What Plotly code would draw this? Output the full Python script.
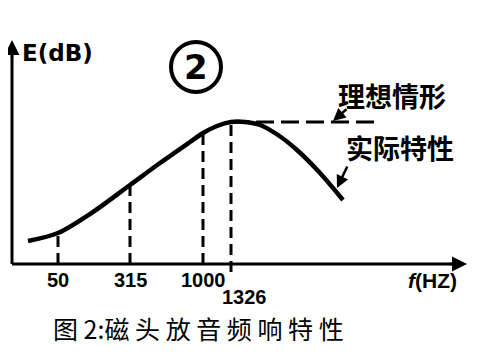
import plotly.graph_objects as go

# Schematic frequency-response curve (x: schematic frequency position, y: E level, arbitrary units)
curve_x = [16, 46, 81, 118, 148, 178, 191, 205, 219, 233, 248, 266, 285, 308, 331]
curve_y = [23, 31, 52, 79, 101, 122, 131, 138, 142, 142, 139, 129, 114, 91, 64]

# Marked frequencies: schematic positions, labels and level on curve
mark_pos = [46, 118, 191, 219]
mark_labels = ["50", "315", "1000", "1326"]
mark_level = [31, 79, 131, 142]

# Ideal (flat) response continuation
ideal_x = [219, 368]
ideal_y = [142, 142]

fig = go.Figure()

# dashed verticals
for i, (p, lv) in enumerate(zip(mark_pos, mark_level)):
    y0 = -8 if i == 3 else 0
    fig.add_trace(go.Scatter(x=[p, p], y=[y0, lv], mode="lines",
                             line=dict(color="black", width=3, dash="11px,6px"),
                             hoverinfo="skip", showlegend=False))

# ideal flat line
fig.add_trace(go.Scatter(x=ideal_x, y=ideal_y, mode="lines",
                         line=dict(color="black", width=3, dash="18px,7px"),
                         hoverinfo="skip", showlegend=False))

# actual curve
fig.add_trace(go.Scatter(x=curve_x, y=curve_y, mode="lines",
                         line=dict(color="black", width=4.5, shape="spline", smoothing=0.8),
                         hoverinfo="skip", showlegend=False))

# axes lines
fig.add_trace(go.Scatter(x=[0, 0], y=[0, 214], mode="lines",
                         line=dict(color="black", width=3), hoverinfo="skip", showlegend=False))
fig.add_trace(go.Scatter(x=[0, 445], y=[0, 0], mode="lines",
                         line=dict(color="black", width=3), hoverinfo="skip", showlegend=False))

ann = []
# axis arrowheads
ann.append(dict(x=0, y=224, ax=0, ay=205, xref="x", yref="y", axref="x", ayref="y",
                text="", showarrow=True, arrowhead=2, arrowsize=1.2, arrowwidth=2.5, arrowcolor="black"))
ann.append(dict(x=455, y=0, ax=435, ay=0, xref="x", yref="y", axref="x", ayref="y",
                text="", showarrow=True, arrowhead=2, arrowsize=1.2, arrowwidth=2.5, arrowcolor="black"))

bold_font = dict(family="Liberation Sans", size=20, color="black")
for i, (p, lab) in enumerate(zip(mark_pos, mark_labels)):
    if i == 3:
        ann.append(dict(x=p + 13, y=-33, text="<b>%s</b>" % lab, showarrow=False, font=bold_font))
    else:
        ann.append(dict(x=p, y=-16, text="<b>%s</b>" % lab, showarrow=False, font=bold_font))

ann.append(dict(x=420, y=-16, text="<b><i>f</i>(HZ)</b>", showarrow=False,
                font=dict(family="Liberation Sans", size=21, color="black")))
ann.append(dict(x=45, y=211, text="<b>E(dB)</b>", showarrow=False,
                font=dict(family="DejaVu Sans", size=23, color="black")))
ann.append(dict(x=184, y=197, text="<b>2</b>", showarrow=False,
                font=dict(family="DejaVu Sans", size=34, color="black")))
ann.append(dict(x=380, y=169, text="<b>理想情形</b>", showarrow=False,
                font=dict(family="Noto Sans CJK SC", size=27, color="black")))
ann.append(dict(x=388, y=117, text="<b>实际特性</b>", showarrow=False,
                font=dict(family="Noto Sans CJK SC", size=27, color="black")))
ann.append(dict(x=186, y=-64, text="图 2:磁 头 放 音 频 响 特 性", showarrow=False,
                font=dict(family="Noto Sans CJK SC", size=25, color="black")))
# leaders
ann.append(dict(x=321, y=143, ax=336, ay=156, xref="x", yref="y", axref="x", ayref="y",
                text="", showarrow=True, arrowhead=2, arrowsize=1, arrowwidth=2.5, arrowcolor="black"))
ann.append(dict(x=325, y=76, ax=336, ay=99, xref="x", yref="y", axref="x", ayref="y",
                text="", showarrow=True, arrowhead=2, arrowsize=1, arrowwidth=2.5, arrowcolor="black"))

fig.update_layout(
    width=482, height=362,
    margin=dict(l=0, r=0, t=0, b=0),
    paper_bgcolor="white", plot_bgcolor="white",
    xaxis=dict(range=[-4, 478], visible=False, fixedrange=True),
    yaxis=dict(range=[-106, 256], visible=False, fixedrange=True),
    annotations=ann,
    shapes=[dict(type="circle", xref="x", yref="y", x0=159, x1=209, y0=172, y1=222,
                 line=dict(color="black", width=4))],
    showlegend=False,
)

fig.write_html("out.html")
